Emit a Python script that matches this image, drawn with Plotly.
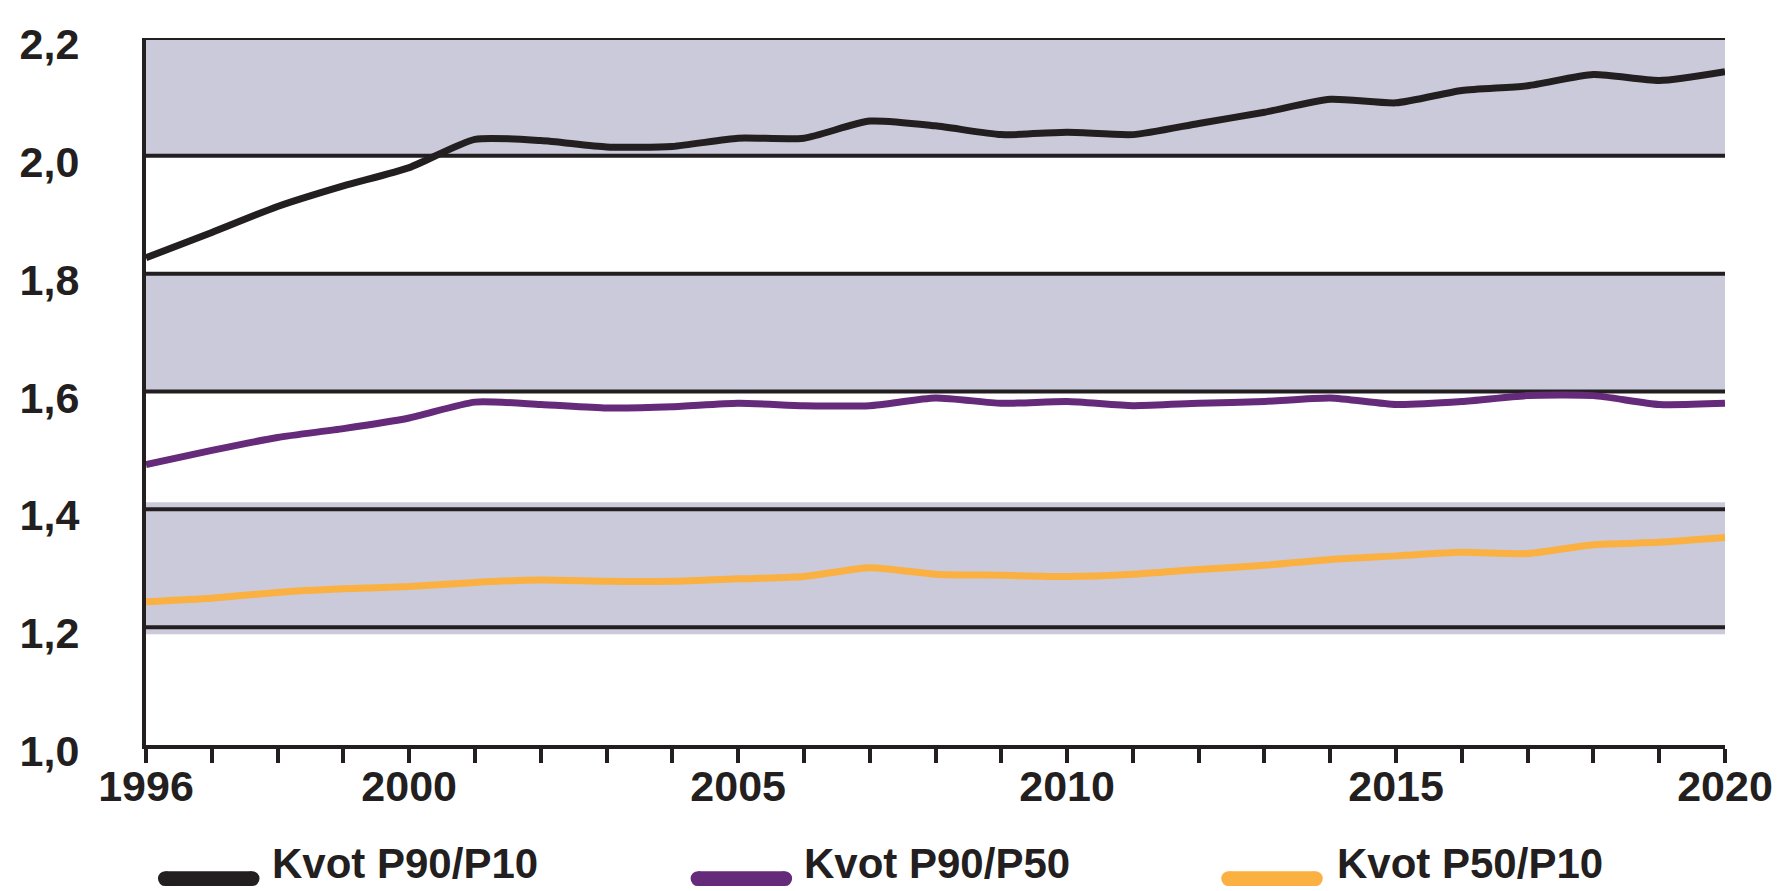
import plotly.graph_objects as go

# ---------------- data ----------------
years = list(range(1996, 2021))
p90_p10 = [1.827, 1.870, 1.914, 1.949, 1.980, 2.028, 2.026, 2.015, 2.016, 2.030,
           2.030, 2.059, 2.051, 2.036, 2.040, 2.036, 2.055, 2.074, 2.096, 2.090,
           2.111, 2.119, 2.138, 2.128, 2.143]
p90_p50 = [1.476, 1.500, 1.522, 1.537, 1.555, 1.582, 1.578, 1.572, 1.574, 1.580,
           1.576, 1.576, 1.589, 1.580, 1.583, 1.576, 1.580, 1.583, 1.589, 1.578,
           1.583, 1.593, 1.593, 1.578, 1.580]
p50_p10 = [1.243, 1.249, 1.259, 1.265, 1.269, 1.276, 1.280, 1.278, 1.278, 1.282,
           1.286, 1.301, 1.290, 1.288, 1.286, 1.290, 1.298, 1.305, 1.315, 1.321,
           1.327, 1.325, 1.340, 1.344, 1.352]
series_names = ["Kvot P90/P10", "Kvot P90/P50", "Kvot P50/P10"]

x_tick_vals = years
x_tick_text = ["1996", "", "", "", "2000", "", "", "", "", "2005", "", "", "", "",
               "2010", "", "", "", "", "2015", "", "", "", "", "2020"]
y_tick_vals = [1.0, 1.2, 1.4, 1.6, 1.8, 2.0, 2.2]
y_tick_text = ["1,0", "1,2", "1,4", "1,6", "1,8", "2,0", "2,2"]
bands = [(2.0, 2.2), (1.6, 1.8), (1.2, 1.4)]

# ---------------- style ----------------
DARK = "#231f20"
BAND = "#cbcada"
colors = ["#231f20", "#652a7a", "#fbb042"]
FONT = "Liberation Sans, Arial, sans-serif"

fig = go.Figure()
for name, vals, col in zip(series_names, [p90_p10, p90_p50, p50_p10], colors):
    fig.add_trace(go.Scatter(
        x=years, y=vals, name=name, mode="lines",
        line=dict(color=col, width=7, shape="spline", smoothing=0.6),
        showlegend=False, cliponaxis=False,
    ))

shapes = []
# shaded bands
for lo, hi in bands:
    ext = 0.012 if lo == 1.2 else 0.0
    shapes.append(dict(type="rect", xref="x", yref="y", x0=years[0], x1=years[-1],
                       y0=lo - ext, y1=hi + ext, fillcolor=BAND, line=dict(width=0),
                       layer="below"))
# horizontal grid lines
for v in y_tick_vals[1:]:
    shapes.append(dict(type="line", xref="x", yref="y", x0=years[0], x1=years[-1],
                       y0=v, y1=v, line=dict(color=DARK, width=4), layer="below"))

# page body has an 8px margin; plot area target in page px: x 142..1728, y 36..745
W = 1728 - 142
H = 745 - 36
def px(xp):
    return (xp - 142) / W
def py(yp):
    return (745 - yp) / H

legend_line_x = [154, 689, 1222]
legend_text_x = [268, 802, 1337]
r = 7.5
lc = 879
annotations = []
for i, name in enumerate(series_names):
    x0 = legend_line_x[i]
    x1 = x0 + 102
    col = colors[i]
    shapes.append(dict(type="rect", xref="paper", yref="paper",
                       x0=px(x0 + r), x1=px(x1 - r), y0=py(lc + r), y1=py(lc - r),
                       fillcolor=col, line=dict(width=0)))
    for cx in (x0 + r, x1 - r):
        shapes.append(dict(type="circle", xref="paper", yref="paper",
                           x0=px(cx - r), x1=px(cx + r), y0=py(lc + r), y1=py(lc - r),
                           fillcolor=col, line=dict(width=0)))
    annotations.append(dict(text=name, xref="paper", yref="paper", x=px(legend_text_x[i]),
                            y=py(888), xanchor="left", yanchor="bottom", showarrow=False,
                            borderpad=0,
                            font=dict(family=FONT, size=42, color=DARK, weight="bold")))

fig.update_layout(
    width=1777, height=883,
    margin=dict(l=134, r=57, t=28, b=146),
    paper_bgcolor="white", plot_bgcolor="white",
    shapes=shapes, annotations=annotations,
    showlegend=False,
    xaxis=dict(range=[years[0], years[-1]], tickvals=x_tick_vals, ticktext=x_tick_text,
               ticks="outside", ticklen=14, tickwidth=4, tickcolor=DARK,
               showline=True, linewidth=4, linecolor=DARK, showgrid=False, zeroline=False,
               ticklabelstandoff=-14,
               tickfont=dict(family=FONT, size=43, color=DARK, weight="bold")),
    yaxis=dict(range=[1.0, 2.2], tickvals=y_tick_vals, ticktext=y_tick_text,
               ticks="", showline=True, linewidth=4, linecolor=DARK,
               showgrid=False, zeroline=False, ticklabelstandoff=54, ticklabelshift=6,
               tickfont=dict(family=FONT, size=43, color=DARK, weight="bold")),
)

fig.write_html("out.html")
